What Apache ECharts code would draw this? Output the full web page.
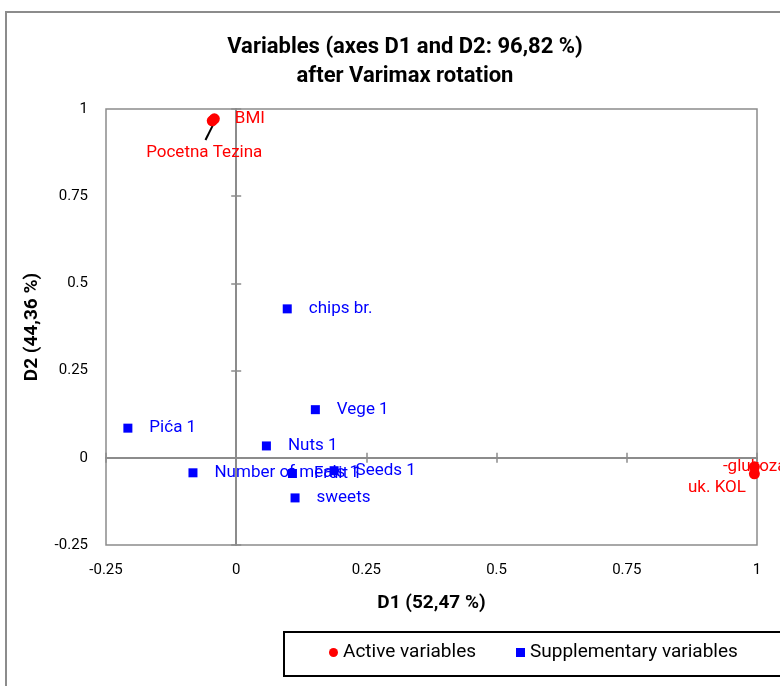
<!DOCTYPE html>
<html>
<head>
<meta charset="utf-8">
<script src="https://cdn.jsdelivr.net/npm/echarts@6/dist/echarts.min.js"></script>
<style>
  html, body { margin: 0; padding: 0; background: #fff; overflow: hidden; }
  #chart { width: 780px; height: 686px; }
  #frame {
    position: absolute; left: 5px; top: 11px; width: 900px; height: 900px;
    border-left: 2px solid #8c8c8c; border-top: 2px solid #8c8c8c;
    pointer-events: none;
  }
  #legend-box {
    position: absolute; left: 283px; top: 631px; width: 600px; height: 42px;
    border: 2px solid #000; pointer-events: none;
  }
</style>
</head>
<body>
<div id="chart"></div>
<div id="frame"></div>
<div id="legend-box"></div>
<script>
// active variables
const activeNames = ["BMI", "Pocetna Tezina", "-glukoza", "uk. KOL"];
const activeX = [-0.042, -0.046, 0.995, 0.995];
const activeY = [0.972, 0.966, -0.026, -0.046];

// supplementary variables
const suppNames = ["chips br.", "Vege 1", "Pića 1", "Nuts 1", "Number of meals 1", "Fruit 1", "Seeds 1", "sweets"];
const suppX = [0.098, 0.152, -0.208, 0.058, -0.083, 0.108, 0.188, 0.113];
const suppY = [0.427, 0.138, 0.085, 0.034, -0.043, -0.045, -0.037, -0.115];

const FONT = "Roboto, 'Noto Sans', sans-serif";
const GRAY = "#8c8c8c";

const chart = echarts.init(document.getElementById("chart"));

// label placement tweaks for crowded active points
const activeLabels = {
  "Pocetna Tezina": { position: "bottom", distance: 18, offset: [-8, 0] },
  "-glukoza": { position: "right", offset: [-52, 0] },
  "uk. KOL": { position: "left", offset: [12, 14] },
};

const zeroAxis = (inside) => ({
  type: "value",
  min: -0.25,
  max: 1,
  interval: 0.25,
  axisLine: { show: true, onZero: true, lineStyle: { color: GRAY, width: 2 } },
  axisTick: { show: true, inside, length: 5, lineStyle: { color: GRAY, width: 1.5 } },
  axisLabel: { show: false },
  splitLine: { show: false },
});

const valueAxis = (name, nameGap, extra) => ({
  type: "value",
  min: -0.25,
  max: 1,
  interval: 0.25,
  axisLine: { show: false, onZero: false },
  axisTick: { show: false },
  splitLine: { show: false },
  axisLabel: { margin: 18, fontSize: 15, color: "#000", formatter: (v) => String(v) },
  name,
  nameLocation: "middle",
  nameGap,
  nameTextStyle: { fontSize: 19, fontWeight: "bold", color: "#000" },
  ...extra,
});

const options = {
  backgroundColor: "#fff",
  textStyle: { fontFamily: FONT },
  title: {
    text: "Variables (axes D1 and D2: 96,82 %)\nafter Varimax rotation",
    left: 400,
    textAlign: "center",
    top: 28,
    textStyle: { fontSize: 22, fontWeight: "bold", color: "#000", lineHeight: 29, fontFamily: FONT },
  },
  grid: {
    left: 106,
    right: 23,
    top: 109,
    bottom: 141,
    show: true,
    borderColor: GRAY,
    borderWidth: 1.5,
    backgroundColor: "transparent",
  },
  legend: {
    left: 284,
    top: 632,
    padding: [11, 4, 11, 45],
    itemGap: 40,
    itemWidth: 9,
    itemHeight: 9,
    textStyle: { fontSize: 19, color: "#000", fontFamily: FONT },
    data: [
      { name: "Active variables", icon: "circle" },
      { name: "Supplementary variables", icon: "rect" },
    ],
  },
  xAxis: [
    valueAxis("D1 (52,47 %)", 49, { position: "bottom" }),
    zeroAxis(false),
    zeroAxis(true),
  ],
  yAxis: [
    valueAxis("D2 (44,36 %)", 64, { position: "left", nameRotate: 90 }),
    zeroAxis(false),
    zeroAxis(true),
  ],
  series: [
    {
      name: "Active variables",
      type: "scatter",
      symbol: "circle",
      symbolSize: 11,
      itemStyle: { color: "#ff0000", opacity: 1 },
      label: {
        show: true,
        position: "right",
        distance: 15,
        color: "#ff0000",
        fontSize: 17,
        formatter: (p) => p.name,
      },
      data: activeNames.map((name, i) => {
        const item = { name, value: [activeX[i], activeY[i]] };
        if (activeLabels[name]) item.label = activeLabels[name];
        return item;
      }),
      z: 5,
    },
    {
      // leader line from "Pocetna Tezina" point to its label
      name: "Active variables",
      type: "line",
      data: [[activeX[1] + 0.002, activeY[1] - 0.01], [activeX[1] - 0.013, activeY[1] - 0.055]],
      symbol: "none",
      lineStyle: { color: "#000", width: 2 },
      silent: true,
      z: 4,
    },
    {
      name: "Supplementary variables",
      type: "scatter",
      symbol: "rect",
      symbolSize: 9,
      itemStyle: { color: "#0000ff", opacity: 1 },
      label: {
        show: true,
        position: "right",
        distance: 17,
        color: "#0000ff",
        fontSize: 17,
        formatter: (p) => p.name,
      },
      data: suppNames.map((name, i) => ({ name, value: [suppX[i], suppY[i]] })),
      z: 5,
    },
  ],
};

chart.setOption(options);
</script>
</body>
</html>
